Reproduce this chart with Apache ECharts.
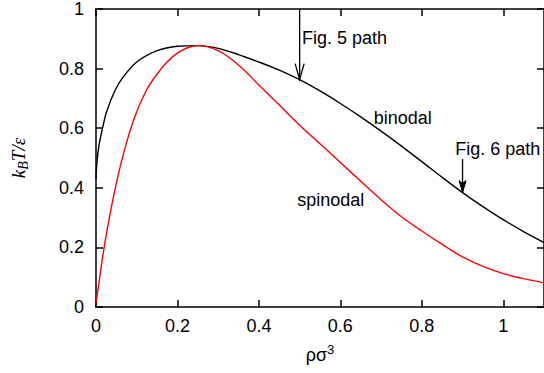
<!DOCTYPE html>
<html>
<head>
<meta charset="utf-8">
<script src="https://cdn.jsdelivr.net/npm/echarts@6/dist/echarts.min.js"></script>
<style>
html, body { margin: 0; padding: 0; background: #fff; }
#chart { width: 544px; height: 373px; }
</style>
</head>
<body>
<div id="chart"></div>
<script>
// binodal (coexistence) curve
const binodalRho = [0, 0.002, 0.005, 0.009, 0.016, 0.026, 0.046, 0.067, 0.1, 0.15, 0.2, 0.25, 0.3, 0.35, 0.4, 0.45, 0.5, 0.55, 0.6, 0.65, 0.7, 0.75, 0.8, 0.85, 0.9, 0.95, 1.0, 1.05, 1.1];
const binodalT = [0.43, 0.48, 0.52, 0.555, 0.6, 0.655, 0.725, 0.772, 0.822, 0.86, 0.875, 0.877, 0.868, 0.847, 0.822, 0.795, 0.763, 0.725, 0.683, 0.638, 0.59, 0.54, 0.488, 0.435, 0.384, 0.337, 0.293, 0.253, 0.216];
// spinodal
const spinodalRho = [0, 0.02, 0.04, 0.06, 0.08, 0.1, 0.125, 0.15, 0.175, 0.2, 0.225, 0.25, 0.3, 0.35, 0.4, 0.45, 0.5, 0.55, 0.6, 0.65, 0.7, 0.75, 0.8, 0.85, 0.9, 0.95, 1.0, 1.05, 1.1];
const spinodalT = [0.01, 0.2, 0.35, 0.475, 0.575, 0.655, 0.73, 0.782, 0.823, 0.852, 0.87, 0.877, 0.86, 0.812, 0.745, 0.678, 0.61, 0.548, 0.485, 0.422, 0.36, 0.303, 0.255, 0.21, 0.168, 0.136, 0.112, 0.095, 0.081];

const xTicks = [0, 0.2, 0.4, 0.6, 0.8, 1];
const yTicks = [0, 0.2, 0.4, 0.6, 0.8, 1];

// path arrows: density, start T, end T
const arrowRho = [0.5, 0.9];
const arrowFrom = [1.0, 0.497];
const arrowTo = [0.763, 0.384];

// text notes (left edge, vertical middle)
const noteText = ['Fig. 5 path', 'binodal', 'Fig. 6 path', 'spinodal'];
const noteRho = [0.506, 0.682, 0.882, 0.494];
const noteT = [0.902, 0.633, 0.531, 0.359];

const FONT = '"Liberation Sans", Arial, Helvetica, sans-serif';
const SERIF = '"Liberation Serif", "Times New Roman", serif';

const chart = echarts.init(document.getElementById('chart'), null, {renderer: 'svg'});

const axisLine = {show: true, onZero: false, lineStyle: {color: '#000', width: 1.5}};
const axisTick = {show: true, inside: true, length: 7, lineStyle: {color: '#000', width: 1.5}};

function renderArrow(params, api) {
    const i = params.dataIndex;
    const start = api.coord([api.value(0), api.value(1)]);
    const tip = api.coord([api.value(0), api.value(2)]);
    const children = [{
        type: 'line',
        shape: {x1: start[0], y1: start[1], x2: tip[0], y2: tip[1]},
        style: {stroke: '#000', lineWidth: 1.3}
    }];
    if (i === 0) {
        children.push({
            type: 'polyline',
            shape: {points: [[tip[0] - 4.5, tip[1] - 16], tip, [tip[0] + 4.5, tip[1] - 16]]},
            style: {stroke: '#000', lineWidth: 1.3, fill: null}
        });
    } else {
        children.push({
            type: 'polygon',
            shape: {points: [[tip[0] - 3.5, tip[1] - 12], tip, [tip[0] + 3.5, tip[1] - 12], [tip[0], tip[1] - 9]]},
            style: {stroke: '#000', lineWidth: 1, fill: '#000'}
        });
    }
    return {type: 'group', children: children};
}

function renderNote(params, api) {
    const p = api.coord([api.value(0), api.value(1)]);
    return {
        type: 'text',
        x: p[0],
        y: p[1],
        style: {
            text: noteText[params.dataIndex],
            fill: '#000',
            font: '18px ' + FONT,
            align: 'left',
            verticalAlign: 'middle'
        }
    };
}

chart.setOption({
    animation: false,
    backgroundColor: '#fff',
    grid: {left: 96, top: 5, width: 449, height: 302},
    xAxis: [
        {
            type: 'value', min: 0, max: 1.1, position: 'bottom',
            axisLine: axisLine,
            axisTick: Object.assign({customValues: xTicks}, axisTick),
            splitLine: {show: false},
            axisLabel: {customValues: xTicks, color: '#000', fontFamily: FONT, fontSize: 18, margin: 10},
            name: '{n|ρσ}{s|3}',
            nameLocation: 'middle',
            nameGap: 36,
            nameTextStyle: {
                rich: {
                    n: {fontFamily: FONT, fontSize: 18, color: '#000', lineHeight: 24, verticalAlign: 'middle'},
                    s: {fontFamily: FONT, fontSize: 13, color: '#000', lineHeight: 24, verticalAlign: 'top'}
                }
            }
        },
        {
            type: 'value', min: 0, max: 1.1, position: 'top',
            axisLine: axisLine,
            axisTick: Object.assign({customValues: xTicks}, axisTick),
            splitLine: {show: false},
            axisLabel: {show: false}
        }
    ],
    yAxis: [
        {
            type: 'value', min: 0, max: 1, position: 'left',
            axisLine: axisLine,
            axisTick: Object.assign({customValues: yTicks}, axisTick),
            splitLine: {show: false},
            axisLabel: {customValues: yTicks, color: '#000', fontFamily: FONT, fontSize: 18, margin: 12},
            name: '{k|k}{b|B}{k|T/ε}',
            nameLocation: 'middle',
            nameGap: 66,
            nameTextStyle: {
                rich: {
                    k: {fontFamily: SERIF, fontStyle: 'italic', fontSize: 19, color: '#000', lineHeight: 24, verticalAlign: 'middle'},
                    b: {fontFamily: SERIF, fontStyle: 'italic', fontSize: 14, color: '#000', lineHeight: 24, verticalAlign: 'bottom'}
                }
            }
        },
        {
            type: 'value', min: 0, max: 1, position: 'right',
            axisLine: axisLine,
            axisTick: Object.assign({customValues: yTicks}, axisTick),
            splitLine: {show: false},
            axisLabel: {show: false}
        }
    ],
    series: [
        {
            name: 'binodal',
            type: 'line',
            data: binodalRho.map((r, i) => [r, binodalT[i]]),
            showSymbol: false,
            smooth: 0.3,
            lineStyle: {color: '#000', width: 1.4},
            clip: true
        },
        {
            name: 'spinodal',
            type: 'line',
            data: spinodalRho.map((r, i) => [r, spinodalT[i]]),
            showSymbol: false,
            smooth: 0.3,
            lineStyle: {color: '#ff0000', width: 1.4},
            clip: true
        },
        {
            type: 'custom',
            renderItem: renderArrow,
            data: arrowRho.map((r, i) => [r, arrowFrom[i], arrowTo[i]]),
            encode: {x: 0, y: [1, 2]},
            clip: false
        },
        {
            type: 'custom',
            renderItem: renderNote,
            data: noteRho.map((r, i) => [r, noteT[i]]),
            encode: {x: 0, y: 1},
            clip: false
        }
    ]
});
</script>
</body>
</html>
